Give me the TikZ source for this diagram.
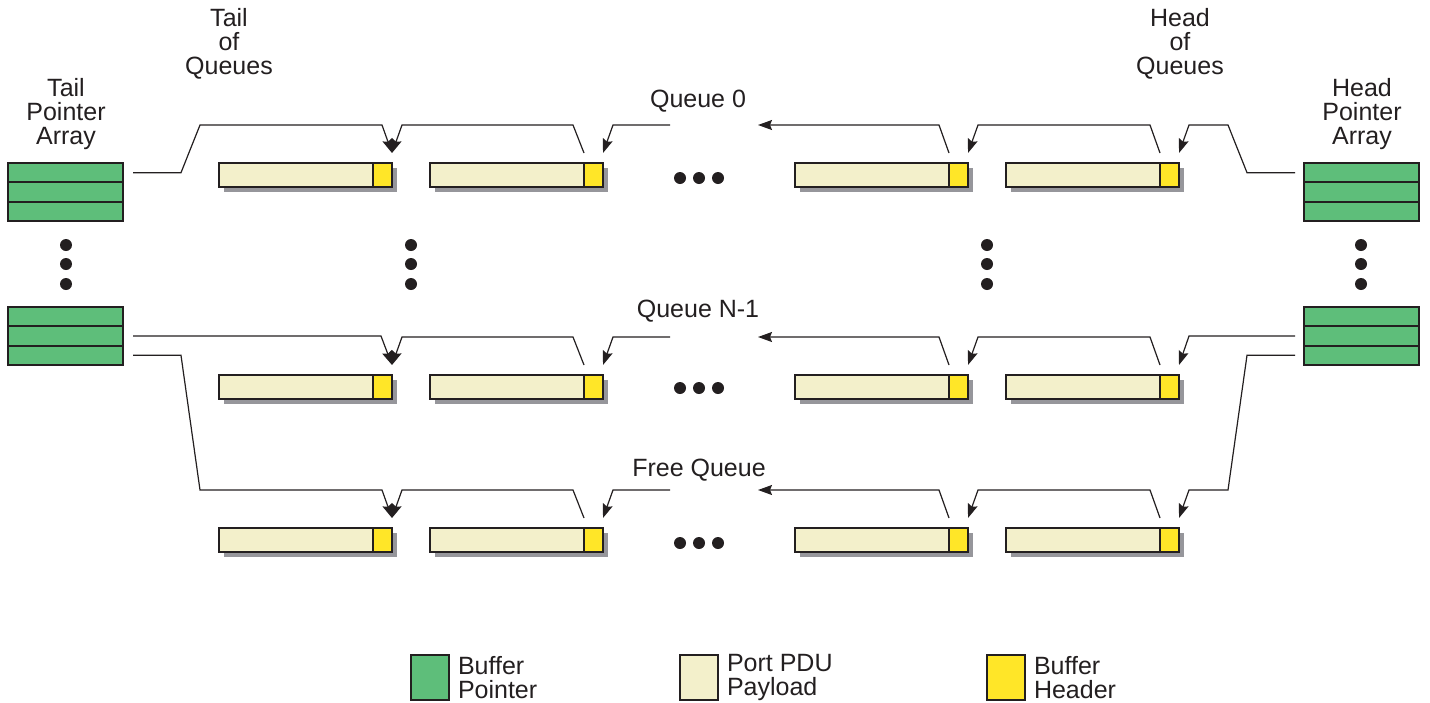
\documentclass[tikz,border=0pt]{standalone}
\usepackage{fontspec}
\setmainfont{Liberation Sans}
\usetikzlibrary{arrows.meta,shadows}

\definecolor{ink}{RGB}{35,31,32}
\definecolor{ptrgreen}{RGB}{94,190,122}
\definecolor{pdubeige}{RGB}{243,240,203}
\definecolor{hdryellow}{RGB}{255,230,40}
\definecolor{shadowgray}{RGB}{150,150,155}

\begin{document}
\begin{tikzpicture}[x=1pt,y=-1pt,
  every node/.style={inner sep=0pt,outer sep=0pt},
  lbl/.style={font=\fontsize{25}{24}\selectfont,text=ink,align=center},
  cell/.style={draw=ink,line width=2pt,fill=ptrgreen,minimum width=115pt,
    minimum height=19.33pt,anchor=north west},
  bufshadow/.style={drop shadow={shadow xshift=5pt,shadow yshift=-5pt,
    fill=shadowgray,opacity=1}},
  payload/.style={draw=ink,line width=2pt,fill=pdubeige,minimum width=154pt,
    minimum height=24pt,anchor=north west,bufshadow},
  header/.style={draw=ink,line width=2pt,fill=hdryellow,minimum width=19pt,
    minimum height=24pt,anchor=north west,bufshadow},
  legbox/.style={draw=ink,line width=1.5pt,minimum width=38pt,
    minimum height=45pt,anchor=north west},
  conn/.style={draw=ink,line width=1.2pt},
  arr/.style={conn,-{Stealth[length=14pt,width=10pt,inset=2pt]}},
  dotmark/.style={fill=ink}
]
\useasboundingbox (0,0) rectangle (1430,702);

% pointer arrays (three cells each)
\foreach \i/\y in {1/163,2/182.33,3/201.67} {
  \node[cell] (ta1-\i) at (8,\y) {};
  \node[cell] (ha1-\i) at (1304,\y) {};
}
\foreach \i/\y in {1/307,2/326.33,3/345.67} {
  \node[cell] (ta2-\i) at (8,\y) {};
  \node[cell] (ha2-\i) at (1304,\y) {};
}

% buffers: payload followed by header, three queues of four buffers
\foreach \r/\T in {1/163,2/375,3/528} {
  \foreach \c/\X in {1/219,2/430,3/795,4/1006} {
    \node[payload] (p\r\c) at (\X,\T) {};
    \node[header] (h\r\c) at (p\r\c.north east) {};
  }
}

% links inside each queue
\foreach \r/\L in {1/125,2/337,3/490} {
  \coordinate (qin\r) at (670,\L);
  \coordinate (qout\r) at (758,\L);
  \draw[arr] ([yshift=10pt]h\r2.north west) -- ++(-11,-28) -- (402,\L)
    -- ([yshift=10pt]h\r1.north east);
  \draw[arr] (qin\r) -- (613,\L) -- ([yshift=10pt]h\r2.north east);
  \draw[arr] ([yshift=10pt]h\r3.north west) -- ++(-10,-28) -- (qout\r);
  \draw[arr] ([yshift=10pt]h\r4.north west) -- ++(-10,-28) -- (978,\L)
    -- ([yshift=10pt]h\r3.north east);
}

% tail pointers
\draw[arr] ([xshift=10pt]ta1-1.east) -- ++(48,0) -- (200,125) -- (382,125)
  -- ([yshift=10pt]h11.north east);
\draw[arr] ([xshift=10pt]ta2-2.east) -- ++(248,0)
  -- ([yshift=10pt]h21.north east);
\draw[arr] ([xshift=10pt]ta2-3.east) -- ++(48,0) -- (200,490) -- (382,490)
  -- ([yshift=10pt]h31.north east);

% head pointers
\draw[arr] ([xshift=-9pt]ha1-1.west) -- ++(-48,0) -- (1228,125) -- (1189,125)
  -- ([yshift=10pt]h14.north east);
\draw[arr] ([xshift=-9pt]ha2-2.west) -- ++(-106,0)
  -- ([yshift=10pt]h24.north east);
\draw[arr] ([xshift=-9pt]ha2-3.west) -- ++(-48,0) -- (1228,490) -- (1189,490)
  -- ([yshift=10pt]h34.north east);

% ellipses
\foreach \x in {66,411,987,1361}
  \foreach \y in {245,264,284}
    \fill[dotmark] (\x,\y) circle (6pt);
\foreach \y in {178,388,543}
  \foreach \x in {680,699,718}
    \fill[dotmark] (\x,\y) circle (6pt);

% labels
\node[lbl] (tailq) at (229,44) {Tail\\of\\Queues};
\node[lbl] (headq) at (1180,44) {Head\\of\\Queues};
\node[lbl] (tailpa) at (66,114) {Tail\\Pointer\\Array};
\node[lbl] (headpa) at (1362,114) {Head\\Pointer\\Array};
\node[lbl,anchor=base] (q0) at (698,107) {Queue 0};
\node[lbl,anchor=base] (qn) at (698,317) {Queue N-1};
\node[lbl,anchor=base] (qf) at (699,476) {Free Queue};

% legend
\node[legbox,fill=ptrgreen] (lg1) at (411,655) {};
\node[legbox,fill=pdubeige] (lg2) at (680,655) {};
\node[legbox,fill=hdryellow] (lg3) at (987,655) {};
\node[lbl,align=left,anchor=west] (lt1) at ([xshift=9pt]lg1.east) {Buffer\\Pointer};
\node[lbl,align=left,anchor=west] (lt2) at ([xshift=9pt]lg2.east) {Port PDU\\Payload};
\node[lbl,align=left,anchor=west] (lt3) at ([xshift=9pt]lg3.east) {Buffer\\Header};
\end{tikzpicture}
\end{document}
